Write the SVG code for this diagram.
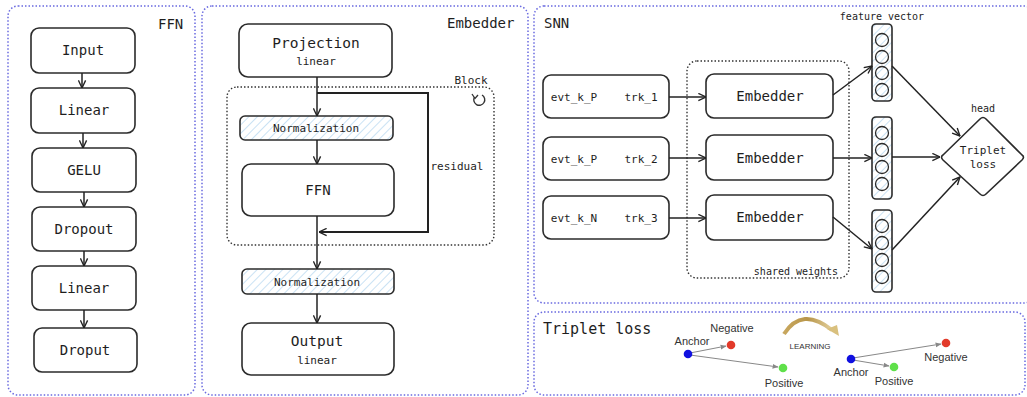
<svg xmlns="http://www.w3.org/2000/svg" width="1027" height="397" viewBox="0 0 1027 397">
<style>
.panel{fill:none;stroke:#6a6ae0;stroke-width:1.5;stroke-dasharray:1.5 2}
.box{fill:#fff;stroke:#2b2b2b;stroke-width:1.6}
.hbox{fill:url(#hatch);stroke:#2b2b2b;stroke-width:1.6}
.dot{fill:none;stroke:#333;stroke-width:1.4;stroke-dasharray:1.5 2}
.t{font-family:"DejaVu Sans Mono","Liberation Mono",monospace;fill:#1e1e1e;text-anchor:middle}
.m{font-size:14px}
.s{font-size:11px}
.xs{font-size:10px}
.lab{font-family:"DejaVu Sans Mono","Liberation Mono",monospace;fill:#1e1e1e;font-size:14px}
.c{fill:none;stroke:#222;stroke-width:1.5}
.g{fill:none;stroke:#888;stroke-width:1}
.a{font-family:"Liberation Sans",Arial,sans-serif;font-size:11px;fill:#333;text-anchor:middle}
</style>
<defs>
<pattern id="hatch" width="6" height="6" patternUnits="userSpaceOnUse" patternTransform="rotate(45)">
<rect width="6" height="6" fill="#fff"/>
<line x1="0" y1="0" x2="0" y2="6" stroke="#b3d6f0" stroke-width="1.4"/>
</pattern>
<marker id="ah" viewBox="0 0 10 10" refX="9.5" refY="5" markerWidth="9" markerHeight="9" markerUnits="userSpaceOnUse" orient="auto">
<path d="M1,1 L9.5,5 L1,9" fill="none" stroke="#222" stroke-width="1.5"/>
</marker>
<marker id="ga" viewBox="0 0 10 10" refX="9" refY="5" markerWidth="6" markerHeight="6" markerUnits="userSpaceOnUse" orient="auto">
<path d="M0,1 L10,5 L0,9 Z" fill="#888"/>
</marker>
<linearGradient id="gold" x1="0" y1="0" x2="1" y2="0">
<stop offset="0" stop-color="#c8a75e"/>
<stop offset="0.5" stop-color="#b8964a"/>
<stop offset="1" stop-color="#e2cf9c"/>
</linearGradient>
</defs>

<!-- panels -->
<rect class="panel" x="8" y="6" width="187" height="389" rx="10"/>
<rect class="panel" x="202" y="6" width="326" height="389" rx="10"/>
<rect class="panel" x="534" y="6" width="500" height="297" rx="10"/>
<rect class="panel" x="534" y="312" width="491" height="83" rx="10"/>
<text class="lab" x="158" y="29">FFN</text>
<text class="lab" x="447" y="28">Embedder</text>
<text class="lab" x="544" y="28">SNN</text>
<text class="lab" x="543" y="334" style="font-size:15px">Triplet loss</text>

<!-- FFN nodes -->
<g id="ffn-input"><rect class="box" x="31" y="28" width="104" height="45" rx="8"/><text class="t m" x="83" y="55">Input</text></g>
<g id="ffn-linear1"><rect class="box" x="31" y="88" width="104" height="45" rx="8"/><text class="t m" x="84" y="115">Linear</text></g>
<g id="ffn-gelu"><rect class="box" x="32" y="148" width="104" height="44" rx="8"/><text class="t m" x="84" y="175">GELU</text></g>
<g id="ffn-dropout"><rect class="box" x="32" y="207" width="104" height="44" rx="8"/><text class="t m" x="84" y="234">Dropout</text></g>
<g id="ffn-linear2"><rect class="box" x="32" y="266" width="104" height="44" rx="8"/><text class="t m" x="84" y="293">Linear</text></g>
<g id="ffn-droput"><rect class="box" x="34" y="328" width="103" height="44" rx="8"/><text class="t m" x="85" y="355">Droput</text></g>

<!-- Embedder nodes -->
<g id="emb-block"><rect class="dot" x="227" y="87" width="267" height="158" rx="10"/>
<text class="t s" x="471" y="84">Block</text>
<path d="M482,95 A5.5,5.5 0 1 1 474.5,97" fill="none" stroke="#333" stroke-width="1.4"/>
<path d="M472,94 L475,98.5 L478,95" fill="none" stroke="#333" stroke-width="1.3"/>
</g>
<g id="emb-projection"><rect class="box" x="239" y="24" width="153" height="53" rx="9"/><text class="t m" x="316" y="48" style="font-size:14.5px">Projection</text><text class="t s" x="316" y="65">linear</text></g>
<g id="emb-norm1"><rect class="hbox" x="240" y="116" width="153" height="24" rx="5"/><text class="t s" x="316" y="132">Normalization</text></g>
<g id="emb-ffn"><rect class="box" x="242" y="164" width="152" height="52" rx="9"/><text class="t m" x="318" y="195">FFN</text></g>
<g id="emb-norm2"><rect class="hbox" x="242" y="269" width="152" height="25" rx="5"/><text class="t s" x="317" y="286">Normalization</text></g>
<g id="emb-output"><rect class="box" x="242" y="323" width="152" height="52" rx="9"/><text class="t m" x="317" y="346" style="font-size:14.5px">Output</text><text class="t s" x="317" y="364">linear</text></g>
<text class="t s" x="457" y="170">residual</text>

<!-- SNN nodes -->
<g id="snn-shared"><rect class="dot" x="687" y="61" width="162" height="217" rx="10"/><text class="t xs" x="796" y="275">shared weights</text></g>
<g id="snn-in1"><rect class="box" x="543" y="75" width="126" height="43" rx="8"/><text class="t s" x="574" y="101">evt_k_P</text><text class="t s" x="641" y="101">trk_1</text></g>
<g id="snn-in2"><rect class="box" x="543" y="137" width="126" height="43" rx="8"/><text class="t s" x="574" y="163">evt_k_P</text><text class="t s" x="641" y="163">trk_2</text></g>
<g id="snn-in3"><rect class="box" x="543" y="196" width="126" height="43" rx="8"/><text class="t s" x="574" y="222">evt_k_N</text><text class="t s" x="641" y="222">trk_3</text></g>
<g id="snn-emb1"><rect class="box" x="706" y="74" width="127" height="44" rx="8"/><text class="t m" x="770" y="101">Embedder</text></g>
<g id="snn-emb2"><rect class="box" x="706" y="135" width="127" height="45" rx="8"/><text class="t m" x="770" y="163">Embedder</text></g>
<g id="snn-emb3"><rect class="box" x="706" y="195" width="127" height="45" rx="8"/><text class="t m" x="770" y="222">Embedder</text></g>
<text class="t xs" x="882" y="20">feature vector</text>
<g id="snn-vec1"><rect class="hbox" x="872" y="24" width="20" height="77" rx="4"/>
<g fill="none" stroke="#2b2b2b" stroke-width="1.3"><circle cx="882" cy="40" r="6.5"/><circle cx="882" cy="57" r="6.5"/><circle cx="882" cy="73" r="6.5"/><circle cx="882" cy="90" r="6.5"/></g></g>
<g id="snn-vec2"><rect class="hbox" x="872" y="117" width="20" height="82" rx="4"/>
<g fill="none" stroke="#2b2b2b" stroke-width="1.3"><circle cx="882" cy="133" r="6.5"/><circle cx="882" cy="150" r="6.5"/><circle cx="882" cy="167" r="6.5"/><circle cx="882" cy="184" r="6.5"/></g></g>
<g id="snn-vec3"><rect class="hbox" x="872" y="210" width="20" height="82" rx="4"/>
<g fill="none" stroke="#2b2b2b" stroke-width="1.3"><circle cx="882" cy="226" r="6.5"/><circle cx="882" cy="243" r="6.5"/><circle cx="882" cy="260" r="6.5"/><circle cx="882" cy="277" r="6.5"/></g></g>
<g id="snn-head"><path class="box" d="M943,155 L980,119 Q983,116 986,119 L1022,155 Q1025,157 1022,160 L986,194 Q983,197 980,194 L943,160 Q940,157 943,155 Z"/>
<text class="t xs" x="983" y="112">head</text><text class="t s" x="983" y="154">Triplet</text><text class="t s" x="983" y="168">loss</text></g>

<!-- connectors -->
<g id="connectors">
<line class="c" x1="82" y1="73" x2="82" y2="88" marker-end="url(#ah)"/>
<line class="c" x1="83" y1="133" x2="83" y2="148" marker-end="url(#ah)"/>
<line class="c" x1="84" y1="192" x2="84" y2="207" marker-end="url(#ah)"/>
<line class="c" x1="84" y1="251" x2="84" y2="266" marker-end="url(#ah)"/>
<line class="c" x1="84" y1="310" x2="84" y2="328" marker-end="url(#ah)"/>
<line class="c" x1="317" y1="77" x2="317" y2="116" marker-end="url(#ah)"/>
<polyline class="c" points="317,93 428,93 428,232 319,232" marker-end="url(#ah)" style="stroke-width:2"/>
<line class="c" x1="317" y1="140" x2="317" y2="164" marker-end="url(#ah)"/>
<line class="c" x1="317" y1="216" x2="317" y2="269" marker-end="url(#ah)"/>
<line class="c" x1="317" y1="294" x2="317" y2="323" marker-end="url(#ah)"/>
<line class="c" x1="669" y1="97" x2="706" y2="97" marker-end="url(#ah)"/>
<line class="c" x1="669" y1="158" x2="706" y2="158" marker-end="url(#ah)"/>
<line class="c" x1="669" y1="218" x2="706" y2="218" marker-end="url(#ah)"/>
<line class="c" x1="833" y1="95" x2="872" y2="66" marker-end="url(#ah)"/>
<line class="c" x1="833" y1="158" x2="872" y2="158" marker-end="url(#ah)"/>
<line class="c" x1="833" y1="217" x2="872" y2="249" marker-end="url(#ah)"/>
<line class="c" x1="892" y1="66" x2="960" y2="136" marker-end="url(#ah)"/>
<line class="c" x1="892" y1="157" x2="940" y2="157" marker-end="url(#ah)"/>
<line class="c" x1="892" y1="250" x2="960" y2="177" marker-end="url(#ah)"/>
</g>

<!-- triplet loss illustration -->
<g id="triplet-before">
<line class="g" x1="690" y1="353" x2="726" y2="346" marker-end="url(#ga)"/>
<line class="g" x1="690" y1="355" x2="778" y2="367" marker-end="url(#ga)"/>
<circle cx="688" cy="354" r="4.3" fill="#1010e0"/>
<circle cx="731" cy="345" r="4.3" fill="#e23a2a"/>
<circle cx="783" cy="368" r="4.3" fill="#5fe04a"/>
<text class="a" x="692" y="345">Anchor</text>
<text class="a" x="732" y="332">Negative</text>
<text class="a" x="784" y="387">Positive</text>
</g>
<g id="triplet-learning">
<path d="M784,334 Q802,306 832,330" fill="none" stroke="url(#gold)" stroke-width="4"/>
<path d="M827,329 L839,336 L837,325 Z" fill="#d9c07e"/>
<text x="810" y="349" style="font-family:'Liberation Sans',Arial,sans-serif;font-size:8px;fill:#333;text-anchor:middle">LEARNING</text>
</g>
<g id="triplet-after">
<line class="g" x1="853" y1="358" x2="941" y2="344" marker-end="url(#ga)"/>
<line class="g" x1="853" y1="360" x2="889" y2="366" marker-end="url(#ga)"/>
<circle cx="851" cy="359" r="4.3" fill="#1010e0"/>
<circle cx="946" cy="343" r="4.3" fill="#e23a2a"/>
<circle cx="894" cy="367" r="4.3" fill="#5fe04a"/>
<text class="a" x="851" y="376">Anchor</text>
<text class="a" x="946" y="361">Negative</text>
<text class="a" x="894" y="385">Positive</text>
</g>
</svg>
